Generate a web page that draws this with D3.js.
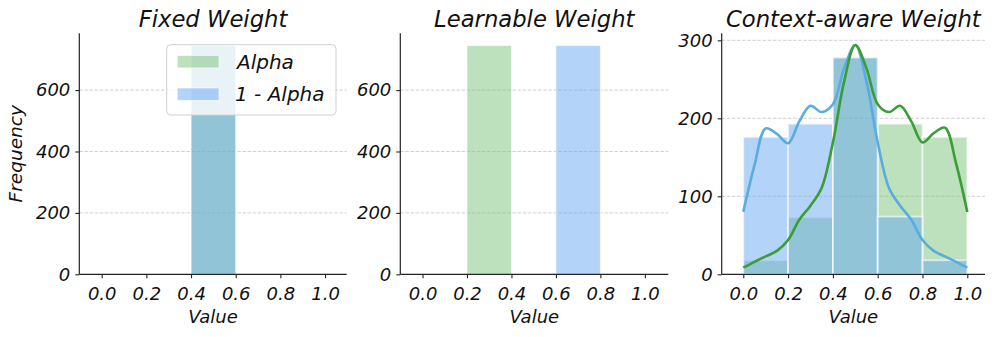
<!DOCTYPE html>
<html><head><meta charset="utf-8">
<script src="https://cdn.jsdelivr.net/npm/d3@7"></script>
<style>
body{margin:0;background:#fff;}
text{font-family:"DejaVu Sans",sans-serif;font-style:oblique;font-weight:400;fill:#111;}
</style></head>
<body><svg id="c" width="997" height="337"></svg>
<script>
// ---- data ----
const titles = ["Fixed Weight", "Learnable Weight", "Context-aware Weight"];
const seriesNames = ["Alpha", "1 - Alpha"];
const binEdges = [0.0, 0.2, 0.4, 0.6, 0.8, 1.0];
const xTicks = [0.0, 0.2, 0.4, 0.6, 0.8, 1.0];
// panel 1: fixed weight (all values 0.5)
const fixedAlpha = [0, 0, 745, 0, 0];
const fixedOneMinus = [0, 0, 745, 0, 0];
// panel 2: learnable weight
const learnAlpha = [0, 745, 0, 0, 0];
const learnOneMinus = [0, 0, 0, 745, 0];
// panel 3: context-aware weight
const ctxAlpha = [18, 73, 278, 193, 176];
const ctxOneMinus = [176, 193, 278, 74, 18];
const kdeX = [0, .05, .1, .15, .2, .25, .3, .35, .4, .45, .5, .55, .6, .65, .7, .75, .8, .85, .9, .95, 1.0];
const kdeAlpha = [8.5, 16, 23, 30, 44, 70, 88, 111, 169, 247, 294, 264, 218, 208, 216, 196, 169, 181, 188, 142, 80];
const kdeOneMinus = [80, 140, 187, 180, 168, 196, 216, 208, 218, 264, 294, 247, 169, 111, 88, 70, 44, 30, 23, 16, 8.5];
const yTicks12 = [0, 200, 400, 600];
const yTicks3 = [0, 100, 200, 300];

// ---- style ----
const green = "#7bc17b", blue = "#67a7f1";
const greenLine = "#3a9e34", blueLine = "#59ace0";
const plotTop = 33.3, plotBottom = 274.3;
const panels = [
  {left: 79.3, right: 346.7, xlim: [-0.1003, 1.097], ymax: 785, ticks: yTicks12, a: fixedAlpha, b: fixedOneMinus},
  {left: 400.3, right: 668.3, xlim: [-0.1, 1.1055], ymax: 785, ticks: yTicks12, a: learnAlpha, b: learnOneMinus},
  {left: 721.7, right: 985, xlim: [-0.0964, 1.079], ymax: 309, ticks: yTicks3, a: ctxAlpha, b: ctxOneMinus, kde: true}
];
const svg = d3.select("#c");

panels.forEach((p, i) => {
  const x = d3.scaleLinear().domain(p.xlim).range([p.left, p.right]);
  const y = d3.scaleLinear().domain([0, p.ymax]).range([plotBottom, plotTop]);
  const g = svg.append("g");
  // grid
  g.selectAll(".grid").data(p.ticks.filter(t => t > 0)).join("line")
    .attr("x1", p.left).attr("x2", p.right)
    .attr("y1", d => y(d)).attr("y2", d => y(d))
    .attr("stroke", "#c4c4c4").attr("stroke-width", 0.8).attr("stroke-dasharray", "3.5,1.6");
  // bars
  const bins = binEdges.slice(0, -1).map((e, k) => ({x0: e, x1: binEdges[k + 1]}));
  [[p.a, green], [p.b, blue]].forEach(([vals, col]) => {
    g.append("g").selectAll("rect").data(bins.map((b, k) => ({...b, v: vals[k]})).filter(d => d.v > 0)).join("rect")
      .attr("x", d => x(d.x0)).attr("width", d => x(d.x1) - x(d.x0))
      .attr("y", d => y(d.v)).attr("height", d => y(0) - y(d.v))
      .attr("fill", col).attr("fill-opacity", 0.5)
      .attr("stroke", "#fff").attr("stroke-opacity", 0.6).attr("stroke-width", p.kde ? 1.8 : 1);
  });
  if (p.kde) {
    const line = d3.line().x((d, k) => x(kdeX[k])).y(d => y(d)).curve(d3.curveCatmullRom.alpha(0.5));
    g.append("path").attr("d", line(kdeOneMinus)).attr("fill", "none").attr("stroke", blueLine).attr("stroke-width", 2.6);
    g.append("path").attr("d", line(kdeAlpha)).attr("fill", "none").attr("stroke", greenLine).attr("stroke-width", 2.6);
  }
  // axes
  const xa = g.append("g").attr("transform", `translate(0,${plotBottom})`)
    .call(d3.axisBottom(x).tickValues(xTicks).tickFormat(d3.format(".1f")).tickSize(4).tickPadding(9));
  const ya = g.append("g").attr("transform", `translate(${p.left},0)`)
    .call(d3.axisLeft(y).tickValues(p.ticks).tickSize(4).tickPadding(5));
  [xa, ya].forEach(a => {
    a.select(".domain").attr("stroke", "#222").attr("stroke-width", 1.2);
    a.selectAll(".tick line").attr("stroke", "#222").attr("stroke-width", 1.1);
    a.selectAll("text").attr("fill", "#111").style("font-size", "18px").style("font-family", null);
  });
  xa.select(".domain").attr("d", `M${p.left},0H${p.right}`);
  ya.select(".domain").attr("d", `M0,${plotBottom}V${plotTop}`);
  // title
  svg.append("text").attr("x", (p.left + p.right) / 2).attr("y", 27).attr("text-anchor", "middle")
    .style("font-size", "22.7px").text(titles[i]);
  svg.append("text").attr("x", (p.left + p.right) / 2).attr("y", 322.7).attr("text-anchor", "middle")
    .style("font-size", "18px").text("Value");
  if (i === 0) {
    svg.append("text").attr("transform", `translate(21.5,${(plotTop + plotBottom) / 2}) rotate(-90)`)
      .attr("text-anchor", "middle").style("font-size", "18.5px").text("Frequency");
    // legend
    const lg = svg.append("g");
    lg.append("rect").attr("x", 166.7).attr("y", 44.7).attr("width", 169.3).attr("height", 70.3).attr("rx", 4)
      .attr("fill", "#fff").attr("fill-opacity", 0.8).attr("stroke", "#d0d0d0").attr("stroke-width", 1);
    seriesNames.forEach((n, k) => {
      const cy = 61.7 + k * 32.5;
      lg.append("rect").attr("x", 177.3).attr("y", cy - 6.2).attr("width", 41.7).attr("height", 12.4)
        .attr("fill", k === 0 ? green : blue).attr("fill-opacity", 0.5).attr("stroke", "#fff").attr("stroke-opacity", 0.6);
      lg.append("text").attr("x", k === 0 ? 237 : 235).attr("y", cy + 6.8).style("font-size", "20px").text(n);
    });
  }
});
</script></body></html>
